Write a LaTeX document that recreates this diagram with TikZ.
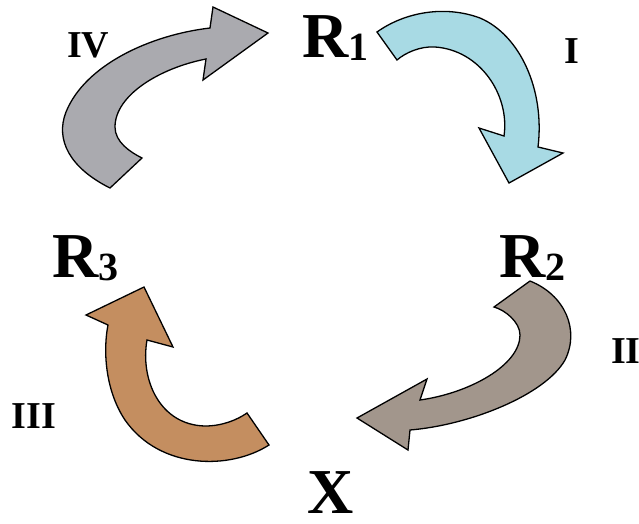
\documentclass[tikz,border=0pt]{standalone}
\usepackage{fontspec}
\setmainfont{Liberation Serif}
\usetikzlibrary{positioning}
\definecolor{arrowgray}{RGB}{170,170,175}
\definecolor{arrowblue}{RGB}{168,218,228}
\definecolor{arrowtaupe}{RGB}{162,150,140}
\definecolor{arrowbrown}{RGB}{196,142,96}
\tikzstyle{cyclearrow} = [draw=black, line width=1.3pt, line join=miter]
\tikzstyle{species}    = [inner sep=0pt, outer sep=0pt, anchor=base west, font=\fontsize{64}{64}\selectfont\bfseries]
\tikzstyle{steplabel}  = [inner sep=0pt, outer sep=0pt, anchor=base west, font=\fontsize{38}{38}\selectfont\bfseries]
\newcommand{\subidx}[1]{\raisebox{-3pt}{\fontsize{40}{40}\selectfont #1}}

\begin{document}
\begin{tikzpicture}[
        x=1pt,
        y=-1pt
    ]
        \useasboundingbox (0,0) rectangle (639,523);

        % Šipka IV
        \path[cyclearrow, fill=arrowgray]
            (110,188) .. controls (70,168) and (55,140) .. (66,112)
            .. controls (85,65) and (150,35) .. (210,28)
            -- (213,7) -- (268,33) -- (203,80) -- (206,59)
            .. controls (160,68) and (115,95) .. (115,127)
            .. controls (115,142) and (130,152) .. (142,158)
            -- cycle;

        % Šipka I
        \path[cyclearrow, fill=arrowblue]
            (377,32) .. controls (405,12) and (445,5) .. (480,18)
            .. controls (520,35) and (545,90) .. (538,147)
            -- (563,153) -- (509,183) -- (479,128) -- (504,136)
            .. controls (510,95) and (480,50) .. (435,47)
            .. controls (420,46) and (405,53) .. (397,60)
            -- cycle;

        % Šipka II
        \path[cyclearrow, fill=arrowtaupe]
            (530,281) .. controls (565,295) and (580,330) .. (565,360)
            .. controls (545,395) and (470,425) .. (410,430)
            -- (408,450) -- (357,418) -- (427,379) -- (420,400)
            .. controls (470,393) and (520,365) .. (520,335)
            .. controls (520,322) and (505,310) .. (494,307)
            -- cycle;

        % Šipka III
        \path[cyclearrow, fill=arrowbrown]
            (269,445) .. controls (230,470) and (160,470) .. (125,420)
            .. controls (105,390) and (103,350) .. (108,325)
            -- (86,315) -- (144,287) -- (173,347) -- (147,340)
            .. controls (140,380) and (160,425) .. (205,426)
            .. controls (222,426) and (237,420) .. (247,413)
            -- cycle;

        % Látky
        \node[species] (r1) at (302,57) {R\subidx{1}};
        \node[species] (r2) at (499,277) {R\subidx{2}};
        \node[species] (r3) at (52,277) {R\subidx{3}};
        \node[species] (x) at (307,513) {X};

        % Kroky
        \node[steplabel] (s1) at (564,63) {I};
        \node[steplabel] (s2) at (611,363) {II};
        \node[steplabel] (s3) at (12,428) {III};
        \node[steplabel] (s4) at (67,57) {IV};

    \end{tikzpicture}
\end{document}
